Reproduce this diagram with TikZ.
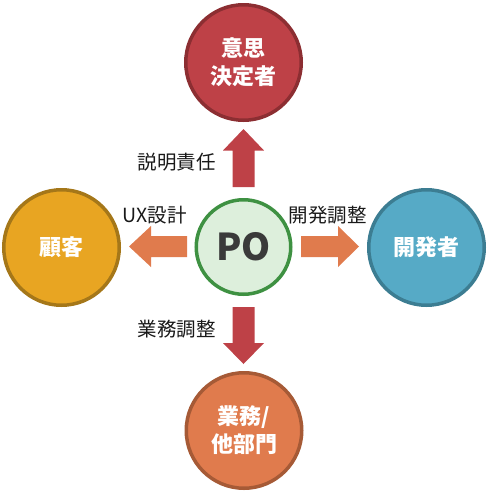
\documentclass[tikz,border=0pt]{standalone}
\usepackage{fontspec}
\newfontfamily\cjk{Noto Sans CJK JP}
\definecolor{redF}{HTML}{BE4147}
\definecolor{redD}{HTML}{8C2E32}
\definecolor{oraF}{HTML}{E07B4D}
\definecolor{oraD}{HTML}{A65A36}
\definecolor{yelF}{HTML}{E8A522}
\definecolor{yelD}{HTML}{A57719}
\definecolor{bluF}{HTML}{56AAC6}
\definecolor{bluD}{HTML}{3C7D92}
\definecolor{grnF}{HTML}{DDEFDC}
\definecolor{grnD}{HTML}{3E9142}
\definecolor{txtD}{HTML}{3A3A3A}
\tikzset{
  role/.style={circle, line width=3.5pt, minimum size=115.5pt, inner sep=0pt,
    text=white, align=center, font=\cjk\bfseries\fontsize{22}{28}\selectfont},
  center/.style={circle, line width=3.5pt, minimum size=94.5pt, inner sep=0pt,
    draw=grnD, fill=grnF, text=txtD, font=\cjk\bfseries\fontsize{37}{40}\selectfont},
  lbl/.style={inner sep=0pt, text=black!90, font=\cjk\fontsize{19.5}{22}\selectfont},
}
\begin{document}
\begin{tikzpicture}[x=1pt,y=-1pt]
\useasboundingbox (0,0) rectangle (489,493);
% circles
\node[role, fill=redF, draw=redD] (dm) at (243.5,62.5) {意思\\決定者};
\node[role, fill=yelF, draw=yelD] (cu) at (61.5,247.5) {顧客};
\node[role, fill=bluF, draw=bluD] (dv) at (426.5,247.5) {開発者};
\node[role, fill=oraF, draw=oraD] (bz) at (244,430.5) {業務/\\他部門};
\node[center] (po) at (243.5,247) {PO};
% block arrows
\fill[redF] (232.5,187) -- (232.5,150.5) -- (223,150.5) -- (243.5,129) -- (264,150.5) -- (254.5,150.5) -- (254.5,187) -- cycle;
\fill[redF] (232.5,307) -- (232.5,343) -- (223,343) -- (243.5,364) -- (264,343) -- (254.5,343) -- (254.5,307) -- cycle;
\fill[oraF] (187,236) -- (151,236) -- (151,226) -- (129,246.5) -- (151,267) -- (151,257) -- (187,257) -- cycle;
\fill[oraF] (301,236) -- (338,236) -- (338,226) -- (359,246.5) -- (338,267) -- (338,257) -- (301,257) -- cycle;
% labels
\node[lbl] (l1) at (176.5,162) {説明責任};
\node[lbl] (l2) at (154.5,215) {UX設計};
\node[lbl] (l3) at (327.5,215) {開発調整};
\node[lbl] (l4) at (176.5,329) {業務調整};
\end{tikzpicture}
\end{document}
